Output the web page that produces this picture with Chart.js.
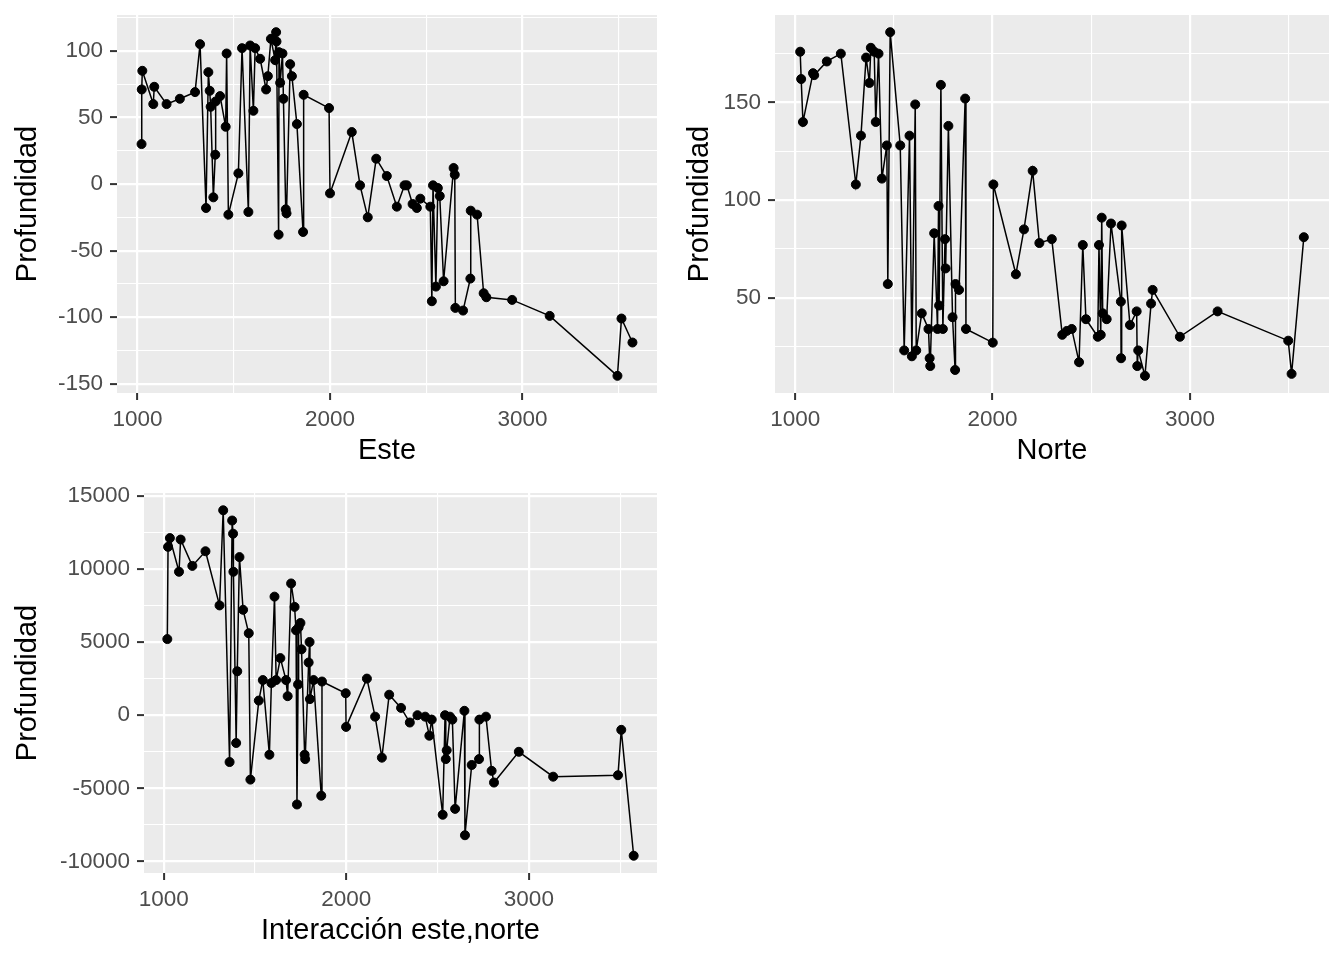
<!DOCTYPE html>
<html>
<head>
<meta charset="utf-8">
<script src="https://cdn.jsdelivr.net/npm/chart.js@4.4.1/dist/chart.umd.min.js"></script>
<style>
  body { margin: 0; background: #fff; }
  canvas { position: absolute; }
</style>
</head>
<body>
<canvas id="c1" width="672" height="470" style="left:0;top:0"></canvas>
<canvas id="c2" width="672" height="470" style="left:672px;top:0"></canvas>
<canvas id="c3" width="672" height="490" style="left:0;top:470px"></canvas>
<script>
// Panel 1: Profundidad vs Este
const esteX = [1021, 1022, 1025, 1082, 1087, 1151, 1220, 1299, 1325, 1356, 1368, 1375, 1380, 1394, 1404, 1406, 1429, 1458, 1463, 1472,
  1524, 1543, 1576, 1585, 1602, 1611, 1637, 1668, 1677, 1693, 1715, 1720, 1722, 1733, 1735, 1741, 1753, 1758, 1770, 1774,
  1793, 1802, 1828, 1860, 1863, 1995, 2000, 2113, 2156, 2196, 2240, 2295, 2347, 2387, 2399, 2429, 2451, 2469, 2521, 2529,
  2535, 2550, 2560, 2570, 2590, 2642, 2648, 2651, 2691, 2729, 2731, 2764, 2798, 2812, 2946, 3141, 3493, 3514, 3571];
const esteY = [30, 71, 85, 60, 73, 60, 64, 69, 105, -18, 84, 70, 58, -10, 22, 62, 66, 43, 98, -23,
  8, 102, -21, 104, 55, 102, 94, 71, 81, 109, 93, 114, 107, -38, 99, 76, 98, 64, -19, -22,
  90, 81, 45, -36, 67, 57, -7, 39, -1, -25, 19, 6, -17, -1, -1, -15, -18, -11, -17, -88,
  -1, -77, -3, -9, -73, 12, 7, -93, -95, -71, -20, -23, -82, -85, -87, -99, -144, -101, -119];

// Panel 2: Profundidad vs Norte
const norteX = [1025, 1030, 1039, 1090, 1096, 1160, 1231, 1307, 1333, 1359, 1376, 1383, 1400, 1408, 1422, 1439, 1464, 1469, 1481, 1532,
  1552, 1579, 1591, 1608, 1613, 1641, 1675, 1681, 1684, 1704, 1721, 1726, 1729, 1738, 1748, 1759, 1762, 1776, 1797, 1810,
  1812, 1830, 1861, 1865, 2001, 2004, 2118, 2159, 2203, 2237, 2300, 2353, 2376, 2401, 2438, 2457, 2473, 2533, 2539, 2548,
  2553, 2558, 2578, 2600, 2650, 2651, 2654, 2696, 2730, 2733, 2738, 2772, 2803, 2811, 2949, 3140, 3498, 3515, 3577];
const norteY = [176, 162, 140, 165, 164, 171, 175, 108, 133, 173, 160, 178, 176, 140, 175, 111, 128, 57, 186, 128,
  23, 133, 20, 149, 23, 42, 34, 19, 15, 83, 34, 97, 46, 159, 34, 80, 65, 138, 40, 13,
  57, 54, 152, 34, 27, 108, 62, 85, 115, 78, 80, 31, 33, 34, 17, 77, 39, 30, 77, 31,
  91, 42, 39, 88, 48, 19, 87, 36, 43, 15, 23, 10, 47, 54, 30, 43, 28, 11, 81];

// Panel 3: Profundidad vs Interaccion este,norte
const interX = [1020, 1024, 1034, 1084, 1093, 1157, 1229, 1306, 1326, 1361, 1375, 1380, 1382, 1397, 1403, 1415, 1435, 1466, 1475, 1521,
  1543, 1579, 1590, 1607, 1616, 1639, 1670, 1679, 1698, 1717, 1725, 1730, 1736, 1739, 1749, 1755, 1772, 1775, 1794, 1799,
  1801, 1821, 1863, 1867, 1997, 1999, 2113, 2158, 2195, 2235, 2300, 2348, 2390, 2432, 2455, 2468, 2528, 2541, 2545, 2550,
  2568, 2581, 2596, 2647, 2650, 2687, 2727, 2729, 2765, 2796, 2809, 2945, 3133, 3488, 3506, 3574];
const interY = [5200, 11500, 12100, 9800, 12000, 10200, 11200, 7500, 14000, -3200, 13300, 12400, 9800, -1900, 3000, 10800, 7200, 5600, -4400, 1000,
  2400, -2700, 2200, 8100, 2400, 3900, 2400, 1300, 9000, 7400, 5800, -6100, 2100, 6000, 6300, 4500, -2700, -3000, 3600, 5000,
  1100, 2400, -5500, 2300, 1500, -800, 2500, -100, -2900, 1400, 500, -500, 0, -100, -1400, -300, -6800, 0, -3000, -2400,
  -100, -300, -6400, 300, -8200, -3400, -3000, -300, -100, -3800, -4600, -2500, -4200, -4100, -1000, -9600];

// tick values (major get labels, minor only grid)
const xMajor = [1000, 2000, 3000];
const xMinor = [1500, 2500, 3500];
const esteMajor = [-150, -100, -50, 0, 50, 100];
const esteMinor = [-125, -75, -25, 25, 75, 125];
const norteMajor = [50, 100, 150];
const norteMinor = [25, 75, 125, 175];
const interMajor = [-10000, -5000, 0, 5000, 10000, 15000];
const interMinor = [-7500, -2500, 2500, 7500, 12500];

const FONT = '"Liberation Sans", Arial, sans-serif';

function expand(arr) {
  const lo = Math.min(...arr), hi = Math.max(...arr);
  const d = (hi - lo) * 0.05;
  return [lo - d, hi + d];
}

const panelBg = {
  id: 'panelBg',
  beforeDraw(chart) {
    const a = chart.chartArea, c = chart.ctx;
    c.save();
    c.fillStyle = '#EBEBEB';
    c.fillRect(a.left, a.top, a.right - a.left, a.bottom - a.top);
    c.restore();
  }
};

function axis(major, minor, range, title, fit, horizontal, titlePad) {
  const all = major.concat(minor).filter(v => v >= range[0] && v <= range[1]).sort((a, b) => a - b);
  return {
    type: 'linear',
    min: range[0],
    max: range[1],
    afterBuildTicks: ax => { ax.ticks = all.map(v => ({ value: v })); },
    afterFit: ax => { if (horizontal) ax.height = fit; else ax.width = fit; },
    border: { display: false },
    grid: {
      color: '#FFFFFF',
      lineWidth: ctx => (ctx.tick && major.includes(ctx.tick.value)) ? 2.2 : 1.1,
      tickLength: 7,
      tickWidth: 2,
      tickColor: ctx => (ctx.tick && major.includes(ctx.tick.value)) ? '#333333' : 'rgba(0,0,0,0)'
    },
    ticks: {
      autoSkip: false,
      maxRotation: 0,
      padding: horizontal ? 6 : 7,
      color: '#4D4D4D',
      font: { family: FONT, size: 22.5 },
      // minor ticks: empty array keeps the grid line but takes no room
      callback: v => major.includes(v) ? String(v) : []
    },
    title: {
      display: true,
      text: title,
      color: '#000000',
      font: { family: FONT, size: 29 },
      padding: titlePad
    }
  };
}

function makeChart(id, xs, ys, xTitle, yMajor, yMinor, yFit, xFit, pad, xTitlePad) {
  const pts = xs.map((x, i) => ({ x: x, y: ys[i] }));
  return new Chart(document.getElementById(id), {
    type: 'scatter',
    data: {
      datasets: [{
        data: pts,
        showLine: true,
        borderColor: '#000000',
        borderWidth: 1.5,
        backgroundColor: '#000000',
        pointRadius: 4.5,
        pointBorderWidth: 1,
        pointHoverRadius: 4.5
      }]
    },
    options: {
      responsive: false,
      animation: false,
      layout: { padding: pad },
      plugins: { legend: { display: false }, tooltip: { enabled: false } },
      scales: {
        x: axis(xMajor, xMinor, expand(xs), xTitle, xFit, true, { top: 0, bottom: xTitlePad }),
        y: axis(yMajor, yMinor, expand(ys), 'Profundidad', yFit, false, { top: 11, bottom: 0 })
      }
    },
    plugins: [panelBg]
  });
}

makeChart('c1', esteX, esteY, 'Este', esteMajor, esteMinor, 117, 77, { left: 0, top: 15, right: 15, bottom: 0 }, 1.6);
makeChart('c2', norteX, norteY, 'Norte', norteMajor, norteMinor, 103, 77, { left: 0, top: 15, right: 15, bottom: 0 }, 1.6);
makeChart('c3', interX, interY, 'Interacción este,norte', interMajor, interMinor, 144, 87, { left: 0, top: 23, right: 15, bottom: 0 }, 11.6);
</script>
</body>
</html>
